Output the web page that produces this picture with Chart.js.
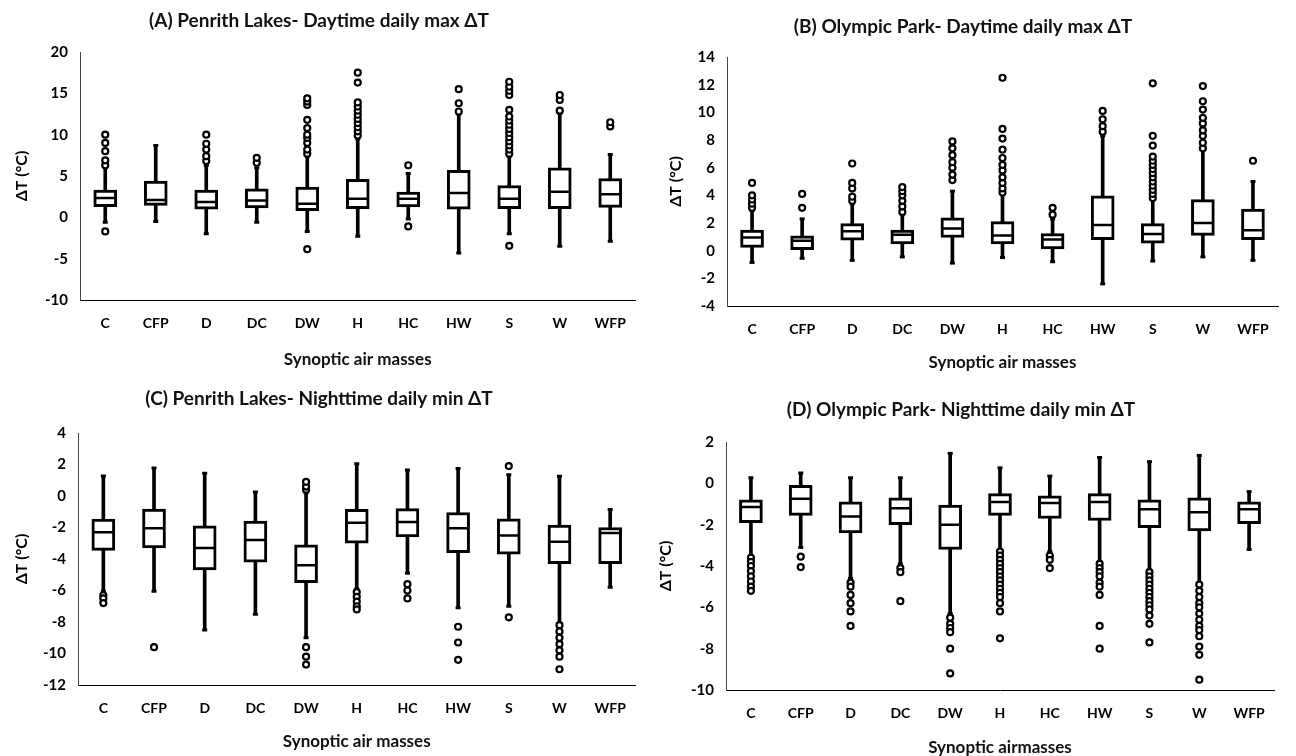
<!DOCTYPE html>
<html><head><meta charset="utf-8">
<script src="https://cdn.jsdelivr.net/npm/chart.js@4.4.1/dist/chart.umd.min.js"></script>
<style>
html,body{margin:0;padding:0;background:#fff;width:1296px;height:756px;overflow:hidden}
.panel{position:absolute}
canvas{display:block}
</style></head><body>
<div class="panel" style="left:0;top:0"><canvas id="cA" width="648" height="378"></canvas></div>
<div class="panel" style="left:648px;top:0"><canvas id="cB" width="648" height="378"></canvas></div>
<div class="panel" style="left:0;top:378px"><canvas id="cC" width="648" height="378"></canvas></div>
<div class="panel" style="left:648px;top:378px"><canvas id="cD" width="648" height="378"></canvas></div>
<script>
const categories = ['C','CFP','D','DC','DW','H','HC','HW','S','W','WFP'];

// (A) Penrith Lakes - daytime daily max dT
const aTicks = [-10,-5,0,5,10,15,20];
const aLow  = [-0.6,-0.5,-2.0,-0.6,-1.7,-2.3,-0.2,-4.3,-2.0,-3.5,-2.9];
const aQ1   = [1.3,1.45,1.0,1.15,0.8,1.05,1.25,1.0,1.05,1.05,1.2];
const aMed  = [2.35,2.1,1.85,2.05,1.65,2.25,2.25,2.95,2.25,3.1,2.8];
const aQ3   = [3.3,4.4,3.3,3.45,3.65,4.6,3.05,5.7,3.85,6.0,4.7];
const aHigh = [6.0,8.7,6.3,6.0,7.4,9.5,5.3,12.5,7.4,12.6,7.6];
const aOut  = [[-1.7,6.3,6.9,8.0,9.0,10.0],[],[6.8,7.4,8.2,8.9,10.0],[6.6,7.2],
  [-3.85,7.7,8.2,9.0,9.6,10.0,10.8,11.8,13.6,14.0,14.4],
  [9.9,10.4,10.9,11.4,11.9,12.4,12.9,13.4,13.9,16.3,17.5],[-1.1,6.3],[12.8,13.8,15.5],
  [-3.45,7.7,8.2,8.7,9.2,9.7,10.2,10.7,11.2,11.7,12.2,13.0,14.8,15.3,15.8,16.4],
  [12.9,14.2,14.8],[11.0,11.5]];

// (B) Olympic Park - daytime daily max dT
const bTicks = [-4,-2,0,2,4,6,8,10,12,14];
const bLow  = [-0.85,-0.55,-0.7,-0.45,-0.9,-0.5,-0.8,-2.4,-0.75,-0.45,-0.7];
const bQ1   = [0.24,0.07,0.76,0.48,0.95,0.48,0.12,0.79,0.55,1.1,0.79];
const bMed  = [0.95,0.72,1.4,1.15,1.6,1.1,0.8,1.85,1.2,2.0,1.48];
const bQ3   = [1.48,1.07,1.95,1.48,2.38,2.1,1.24,3.97,1.95,3.69,3.0];
const bHigh = [2.9,2.3,3.4,2.6,4.3,4.1,2.3,8.3,3.7,7.3,5.0];
const bOut  = [[3.1,3.4,3.7,4.0,4.9],[3.1,4.1],[3.6,3.9,4.5,4.9,6.3],[2.8,3.2,3.6,4.0,4.3,4.6],
  [5.1,5.5,6.0,6.4,6.9,7.4,7.9],[4.2,4.5,4.9,5.3,5.8,6.2,6.7,7.3,8.1,8.8,12.5],[2.6,3.1],
  [8.6,9.0,9.5,10.1],[3.8,4.1,4.4,4.7,5.0,5.3,5.6,5.9,6.2,6.5,6.8,7.6,8.3,12.1],
  [7.4,7.8,8.3,8.7,9.2,9.6,10.2,10.8,11.9],[6.5]];

// (C) Penrith Lakes - nighttime daily min dT
const cTicks = [-12,-10,-8,-6,-4,-2,0,2,4];
const cLow  = [-6.05,-6.05,-8.5,-7.5,-9.0,-5.9,-4.9,-7.1,-7.0,-8.1,-5.8];
const cQ1   = [-3.45,-3.3,-4.7,-4.2,-5.5,-3.0,-2.6,-3.6,-3.7,-4.3,-4.3];
const cMed  = [-2.3,-2.04,-3.3,-2.8,-4.4,-1.7,-1.65,-2.05,-2.5,-2.9,-2.35];
const cQ3   = [-1.47,-0.83,-1.9,-1.6,-3.1,-0.85,-0.8,-1.05,-1.45,-1.85,-2.0];
const cHigh = [1.27,1.78,1.45,0.25,0.2,2.05,1.65,1.75,1.35,1.25,-0.85];
const cOut  = [[-6.3,-6.5,-6.8],[-9.6],[],[],[0.4,0.6,0.9,-9.6,-10.2,-10.7],
  [-6.1,-6.4,-6.7,-7.0,-7.2],[-5.6,-6.0,-6.5],[-8.3,-9.3,-10.4],[1.9,-7.7],
  [-8.2,-8.6,-9.0,-9.4,-9.8,-10.2,-11.0],[]];

// (D) Olympic Park - nighttime daily min dT
const dTicks = [-10,-8,-6,-4,-2,0,2];
const dLow  = [-3.5,-3.1,-4.6,-3.9,-6.3,-3.2,-3.3,-3.8,-4.2,-4.8,-3.2];
const dQ1   = [-1.9,-1.55,-2.4,-2.0,-3.2,-1.55,-1.7,-1.8,-2.15,-2.3,-1.95];
const dMed  = [-1.15,-0.75,-1.6,-1.2,-2.0,-0.9,-0.95,-0.9,-1.25,-1.4,-1.25];
const dQ3   = [-0.8,-0.1,-0.9,-0.7,-1.05,-0.5,-0.6,-0.5,-0.8,-0.7,-0.9];
const dHigh = [0.27,0.5,0.27,0.27,1.45,0.75,0.35,1.25,1.05,1.35,-0.4];
const dOut  = [[-3.6,-3.8,-4.0,-4.25,-4.5,-4.75,-5.0,-5.2],[-3.55,-4.05],[-4.8,-5.0,-5.4,-5.8,-6.2,-6.9],
  [-4.1,-4.3,-5.7],[-6.5,-6.8,-7.0,-7.2,-8.0,-9.2],
  [-3.3,-3.5,-3.7,-3.9,-4.1,-4.3,-4.5,-4.7,-4.9,-5.1,-5.3,-5.5,-5.8,-6.2,-7.5],[-3.5,-3.7,-4.1],
  [-3.9,-4.1,-4.3,-4.5,-4.8,-5.0,-5.4,-6.9,-8.0],
  [-4.3,-4.5,-4.7,-4.9,-5.1,-5.3,-5.5,-5.7,-5.9,-6.1,-6.4,-6.8,-7.7],
  [-4.9,-5.2,-5.5,-5.8,-6.0,-6.3,-6.6,-6.9,-7.1,-7.4,-7.9,-8.3,-9.5],[]];

const panelTitles = ['(A) Penrith Lakes- Daytime daily max ΔT','(B) Olympic Park- Daytime daily max ΔT',
  '(C) Penrith Lakes- Nighttime daily min ΔT','(D) Olympic Park- Nighttime daily min ΔT'];
const xTitles = ['Synoptic air masses','Synoptic air masses','Synoptic air masses','Synoptic airmasses'];
const yTitle = 'ΔT (°C)';

Chart.defaults.font.family = "Lato, 'Open Sans', sans-serif";
Chart.defaults.color = '#000';

function buildPanel(id, low, q1, med, q3, high, out, ticks, titleText, xTitleText, L) {
  const H = 378;
  const outPts = [];
  out.forEach((arr, i) => arr.forEach(v => outPts.push({x: categories[i], y: v})));
  const capPts = [];
  low.forEach((v, i) => { capPts.push({x: categories[i], y: v}); capPts.push({x: categories[i], y: high[i]}); });
  const tf = 19, xf = 17, yf = 16, kf = 14, yk = 15;
  new Chart(document.getElementById(id), {
    type: 'bar',
    data: {
      labels: categories,
      datasets: [
        {type:'bar', data: low.map((v,i)=>[v, high[i]]), backgroundColor:'#000', borderWidth:0,
         barThickness:3, grouped:false, order:5},
        {type:'bar', data: q1.map((v,i)=>[v, q3[i]]), backgroundColor:'#fff', borderColor:'#000',
         borderWidth:3, borderSkipped:false, barThickness:23, grouped:false, order:4},
        {type:'line', data: med, showLine:false, pointStyle:'line', pointRadius:10,
         pointBorderColor:'#000', borderColor:'#000', pointBorderWidth:2.5, order:3},
        {type:'line', data: capPts, showLine:false, pointStyle:'line', pointRadius:2.5,
         pointBorderColor:'#000', borderColor:'#000', pointBorderWidth:3, order:2},
        {type:'line', data: outPts, showLine:false, pointStyle:'circle', pointRadius:3,
         pointBorderWidth:2.2, pointBorderColor:'#000', pointBackgroundColor:'#fff', order:1}
      ]
    },
    options: {
      responsive:false, animation:false, events:[],
      layout: {padding: {left:0, right: L.right, top:0, bottom:0}},
      plugins: {
        legend:{display:false}, tooltip:{enabled:false},
        title: {display:true, text:titleText, color:'#111',
          font:{size:tf, weight:'bold', lineHeight:1.2},
          padding:{top: L.titleY - tf*0.6, bottom: L.top - L.titleY - tf*0.6}}
      },
      scales: {
        x: {
          offset:true,
          grid:{display:false, drawTicks:false},
          border:{display:true, color:'#000', width:1},
          ticks:{font:{size:kf, weight:'bold'}, padding: L.labY - L.bottom - kf*0.6, color:'#000'},
          title:{display:true, text:xTitleText, color:'#111', font:{size:xf, weight:'bold', lineHeight:1.2},
            padding:{top:0, bottom: H - L.xtY - xf*0.6}},
          afterFit: s => { s.height = H - L.bottom; }
        },
        y: {
          min: ticks[0], max: ticks[ticks.length-1],
          grid:{display:false, drawTicks:false},
          border:{display:true, color:'#444', width:1},
          ticks:{stepSize: ticks[1]-ticks[0], font:{size:yk, weight:'bold'}, padding:12, color:'#000'},
          title:{display:true, text:yTitle, color:'#000', font:{size:yf, weight:'bold', lineHeight:1.2},
            padding:{top: L.ytX - yf*0.6, bottom:0}},
          afterFit: s => { s.width = L.left; }
        }
      }
    }
  });
}

buildPanel('cA', aLow, aQ1, aMed, aQ3, aHigh, aOut, aTicks, panelTitles[0], xTitles[0],
  {left:80, right:10, titleY:21, top:52, bottom:300, labY:323, xtY:360, ytX:22});
buildPanel('cB', bLow, bQ1, bMed, bQ3, bHigh, bOut, bTicks, panelTitles[1], xTitles[1],
  {left:79, right:18, titleY:27, top:57, bottom:306, labY:329, xtY:363, ytX:28});
buildPanel('cC', cLow, cQ1, cMed, cQ3, cHigh, cOut, cTicks, panelTitles[2], xTitles[2],
  {left:78, right:10, titleY:21, top:55, bottom:307, labY:330, xtY:364, ytX:22});
buildPanel('cD', dLow, dQ1, dMed, dQ3, dHigh, dOut, dTicks, panelTitles[3], xTitles[3],
  {left:78, right:22, titleY:32, top:64, bottom:312, labY:335, xtY:370, ytX:18});
</script>
</body></html>
